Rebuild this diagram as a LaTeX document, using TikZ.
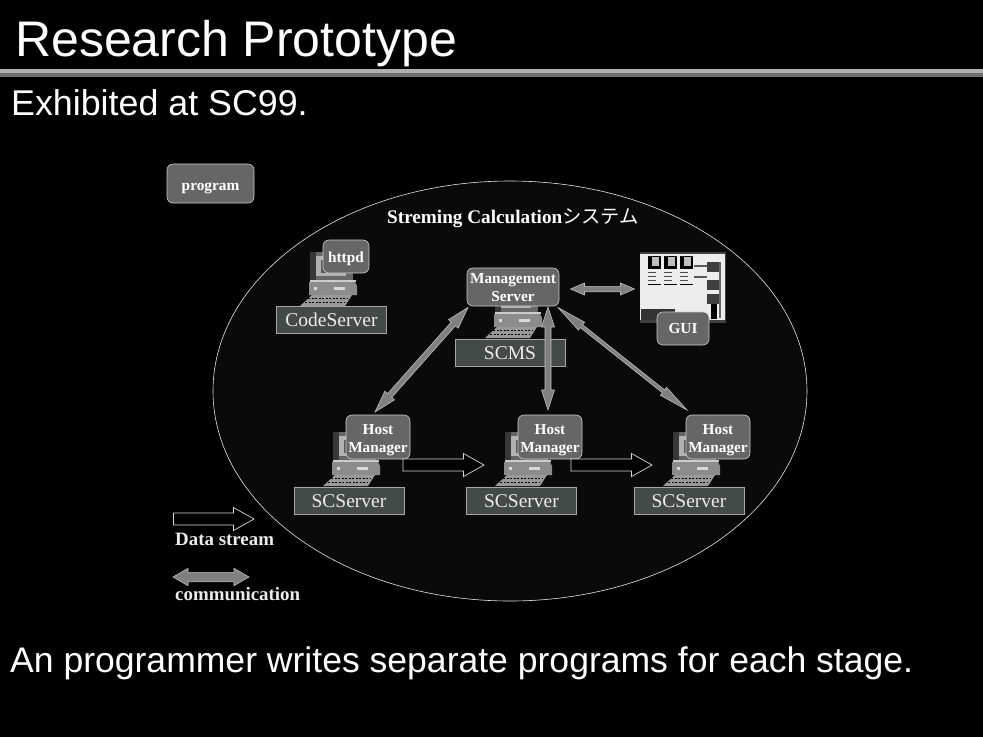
\documentclass[tikz,border=0pt]{standalone}
\usepackage{fontspec}
\setmainfont{Liberation Serif}
\newfontfamily\headfont{Liberation Sans}
\newfontfamily\jpfont{Noto Sans CJK JP}
\usetikzlibrary{calc}
\definecolor{boxgray}{HTML}{666666}
\definecolor{labelgray}{HTML}{444A48}
\definecolor{arrowgray}{HTML}{808080}
\definecolor{ellipsefill}{HTML}{0A0A0A}
% set the text of a box lower, keeping the size the node sees
\newcommand{\lowered}[2]{\raisebox{-#1}[\height][\depth]{\begin{tabular}{@{}c@{}}#2\end{tabular}}}
\tikzset{
  x=1pt,y=-1pt,
  headtext/.style={text=white,inner sep=0,anchor=base west,font=\headfont\fontsize{#1}{#1}\selectfont},
  roundbox/.style={draw=white!80!black,fill=boxgray,line width=.6pt,rounded corners=6pt,text=white,inner sep=0,
    font=\bfseries\fontsize{15.3}{18}\selectfont},
  labelbox/.style={draw=white!65!black,fill=labelgray,line width=.6pt,text=white!92!black,inner sep=0,
    minimum width=110pt,minimum height=27.5pt,font=\fontsize{19.5}{19.5}\selectfont},
  legendtext/.style={text=white!92!black,inner sep=0,anchor=base west,font=\bfseries\fontsize{18.9}{18.9}\selectfont},
  pc/.pic={
    \fill[white!40!black] (10,-54) rectangle (53,-26);
    \fill[white!22!black] (10,-54) rectangle (16,-26);
    \fill[white!70!black] (16,-50) rectangle (46,-30);
    \fill[white!35!black] (21,-46) rectangle (40,-33);
    \fill[white!80!black] (10,-26) rectangle (56,-24);
    \fill[white!55!black] (9,-24) -- (55,-24) -- (57,-20) -- (57,-11) -- (9,-11) -- cycle;
    \fill[white!85!black] (34,-19) rectangle (45,-16);
    \fill[white!85!black] (14,-19) rectangle (17,-16);
    \fill[white!60!black] (12,-11) -- (52,-11) -- (45,0) -- (0,0) -- cycle;
    \draw[black,line width=1pt,dash pattern=on 2pt off 1.5pt] (8,-8) -- (47,-8);
    \draw[black,line width=1pt,dash pattern=on 2pt off 1.5pt] (5,-4) -- (44,-4);
  },
  commfill/.style={draw=white!75!black,fill=arrowgray,line width=.6pt,line join=miter},
  streamfill/.style={draw=white!85!black,fill=black,line width=.7pt},
}
% double arrow from a to b: half shaft width, half head width, head length
\newcommand{\commarrow}[5]{%
  \path ($(#1)!#5!(#2)$) coordinate (hA) ($(#2)!#5!(#1)$) coordinate (hB);
  \draw[commfill] (#1)
    -- ($(hA)!#4!90:(#2)$) -- ($(hA)!#3!90:(#2)$) -- ($(hB)!#3!-90:(#1)$) -- ($(hB)!#4!-90:(#1)$)
    -- (#2)
    -- ($(hB)!#4!90:(#1)$) -- ($(hB)!#3!90:(#1)$) -- ($(hA)!#3!-90:(#2)$) -- ($(hA)!#4!-90:(#2)$)
    -- cycle;}
% hollow block arrow from a to b
\newcommand{\streamarrow}[2]{%
  \path ($(#2)!20.5pt!(#1)$) coordinate (hB);
  \draw[streamfill] ($(#1)!6pt!90:(#2)$) -- ($(hB)!6pt!-90:(#1)$) -- ($(hB)!11.5pt!-90:(#1)$) -- (#2)
    -- ($(hB)!11.5pt!90:(#1)$) -- ($(hB)!6pt!90:(#1)$) -- ($(#1)!6pt!-90:(#2)$) -- cycle;}
\begin{document}
\begin{tikzpicture}
\useasboundingbox (0,0) rectangle (983,737);
\fill[black] (0,0) rectangle (983,737);
% heading
\node[headtext=50] (title) at (15,56) {Research Prototype};
\fill[white!69!black] (0,69) rectangle (983,73);
\fill[white!44!black] (0,73) rectangle (983,77);
\node[headtext=35.8] (sub) at (11,115) {Exhibited at SC99.};
\node[headtext=35.55] (foot) at (10,672) {An programmer writes separate programs for each stage.};
% system ellipse
\draw[white!90!black,fill=ellipsefill,line width=.6pt] (510,391) ellipse [x radius=297,y radius=210];
\node[text=white,inner sep=0,anchor=base west,font=\bfseries\fontsize{19.2}{19.2}\selectfont] (sys) at (387,223.5)
  {Streming Calculation{\jpfont\mdseries\fontsize{19.3}{19.3}\selectfont システム}};
% legend program
\node[roundbox,minimum width=87pt,minimum height=39pt] (prog) at (210.5,183.5) {\lowered{3pt}{program}};
% computers
\pic at (300,306) {pc};
\pic at (485,338) {pc};
\pic at (323,486) {pc};
\pic at (495,486) {pc};
\pic at (663,486) {pc};
% labels under computers
\node[labelbox] (code) at (331.5,320) {CodeServer};
\node[labelbox] (scms) at (510,353) {SCMS};
\node[labelbox] (sc1) at (349,501) {SCServer};
\node[labelbox] (sc2) at (521.5,501) {SCServer};
\node[labelbox] (sc3) at (689,501) {SCServer};
% program boxes
\node[roundbox,minimum width=46pt,minimum height=33pt] (httpd) at (346,256.5) {\lowered{2.5pt}{httpd}};
\node[roundbox,minimum width=92pt,minimum height=38pt] (mgmt) at (513,287) {\lowered{1.5pt}{Management\\Server}};
\node[roundbox,minimum width=64pt,minimum height=44pt] (h1) at (378,437) {\lowered{3pt}{Host\\Manager}};
\node[roundbox,minimum width=64pt,minimum height=44pt] (h2) at (550,437) {\lowered{3pt}{Host\\Manager}};
\node[roundbox,minimum width=64pt,minimum height=44pt] (h3) at (718,437) {\lowered{3pt}{Host\\Manager}};
% GUI window
\fill[white!25!black] (640,252) rectangle (726,323);
\fill[white!93!black] (640,254) rectangle (725,320);
\foreach \tx in {648,664,680}{
  \fill[black] (\tx,256) rectangle ++(13,13);
  \fill[white!75!black] (\tx+4,257) rectangle ++(7,9);
  \foreach \ty in {272,276,280}{\fill[white!30!black] (\tx,\ty) rectangle ++(8,1.2);}
  \fill[black] (\tx,284) rectangle ++(13,1.2);
}
\fill[white!35!black] (694,265) rectangle (707,267);
\fill[white!35!black] (694,276) rectangle (707,278);
\foreach \ty in {262,280,294}{\fill[white!25!black] (707,\ty) rectangle ++(12,10);}
\fill[white!40!black] (719,262) rectangle (721,318);
\fill[black] (711,304) rectangle (717,319);
\fill[white!20!black] (641,309) rectangle (675,320);
\node[roundbox,minimum width=52pt,minimum height=33pt] (gui) at (683,328.5) {\lowered{1pt}{GUI}};
% communication arrows
\coordinate (guiL) at (570.5,289);
\coordinate (guiR) at (634.5,289);
\commarrow{guiL}{guiR}{2.7pt}{6pt}{14pt}
\coordinate (m1) at (468,307.5);
\coordinate (t1) at (375,412);
\commarrow{m1}{t1}{2.8pt}{6.5pt}{22pt}
\coordinate (m2) at (548,307);
\coordinate (t2) at (548,410);
\commarrow{m2}{t2}{3pt}{6.5pt}{20pt}
\coordinate (m3) at (558,307.5);
\coordinate (t3) at (687,410);
\commarrow{m3}{t3}{1.8pt}{5pt}{30pt}
% data streams
\coordinate (d1) at (403,465);
\coordinate (d1e) at (484,465);
\streamarrow{d1}{d1e}
\coordinate (d2) at (571,465);
\coordinate (d2e) at (652,465);
\streamarrow{d2}{d2e}
% legend
\coordinate (l1) at (173.5,519);
\coordinate (l1e) at (254,519);
\streamarrow{l1}{l1e}
\node[legendtext] (lds) at (175,545.5) {Data stream};
\coordinate (l2) at (173,577);
\coordinate (l2e) at (249,577);
\commarrow{l2}{l2e}{4.7pt}{8.7pt}{15pt}
\node[legendtext] (lcm) at (175,600.5) {communication};
\end{tikzpicture}
\end{document}
